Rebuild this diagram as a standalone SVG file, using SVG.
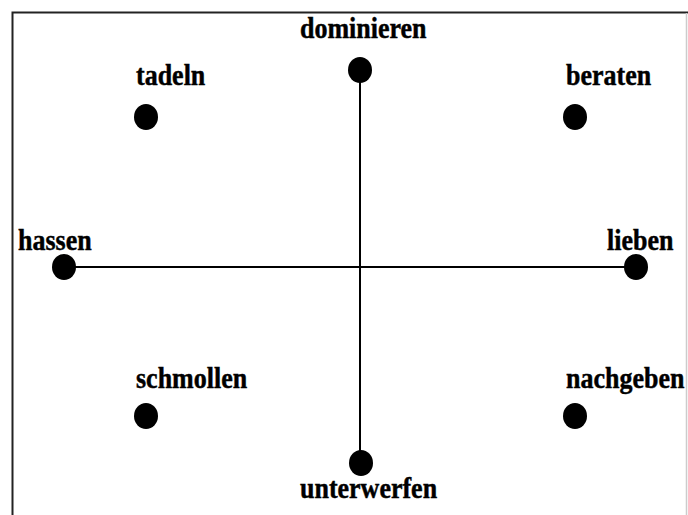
<svg xmlns="http://www.w3.org/2000/svg" width="688" height="515" viewBox="0 0 688 515">
<style>
.lbl{font-family:"Liberation Serif","Times New Roman",serif;font-weight:bold;font-size:26px;fill:#000;stroke:#000;stroke-width:0.4}
.dot{fill:#000}
.ax{stroke:#000;stroke-width:2;fill:none}
</style>
<rect width="688" height="515" fill="#fff"/>
<path d="M12.5 515 V12.5 H688" stroke="#222" stroke-width="2" fill="none"/>
<line x1="686.5" y1="13" x2="686.5" y2="515" stroke="#ccc" stroke-width="1.5"/>
<g id="connectors">
<line class="ax" x1="64" y1="267" x2="636" y2="267"/>
<line class="ax" x1="360" y1="71" x2="360" y2="463"/>
</g>
<g id="dominieren"><ellipse class="dot" cx="360" cy="70" rx="12" ry="13"/><text class="lbl" transform="translate(300 38) scale(1 1.15)">dominieren</text></g>
<g id="tadeln"><ellipse class="dot" cx="146" cy="117" rx="12" ry="13"/><text class="lbl" transform="translate(136 85) scale(1 1.15)">tadeln</text></g>
<g id="beraten"><ellipse class="dot" cx="575" cy="117" rx="12" ry="13"/><text class="lbl" transform="translate(566 85) scale(1 1.15)">beraten</text></g>
<g id="hassen"><ellipse class="dot" cx="64" cy="267" rx="12" ry="13"/><text class="lbl" transform="translate(18 250) scale(1 1.15)">hassen</text></g>
<g id="lieben"><ellipse class="dot" cx="636" cy="267" rx="12" ry="13"/><text class="lbl" transform="translate(607 250) scale(1 1.15)">lieben</text></g>
<g id="schmollen"><ellipse class="dot" cx="146" cy="416" rx="12" ry="13"/><text class="lbl" transform="translate(136 388) scale(1 1.15)">schmollen</text></g>
<g id="nachgeben"><ellipse class="dot" cx="575" cy="416" rx="12" ry="13"/><text class="lbl" transform="translate(566 388) scale(1 1.15)">nachgeben</text></g>
<g id="unterwerfen"><ellipse class="dot" cx="361" cy="463" rx="12" ry="13"/><text class="lbl" transform="translate(300 498) scale(1 1.15)">unterwerfen</text></g>
</svg>
